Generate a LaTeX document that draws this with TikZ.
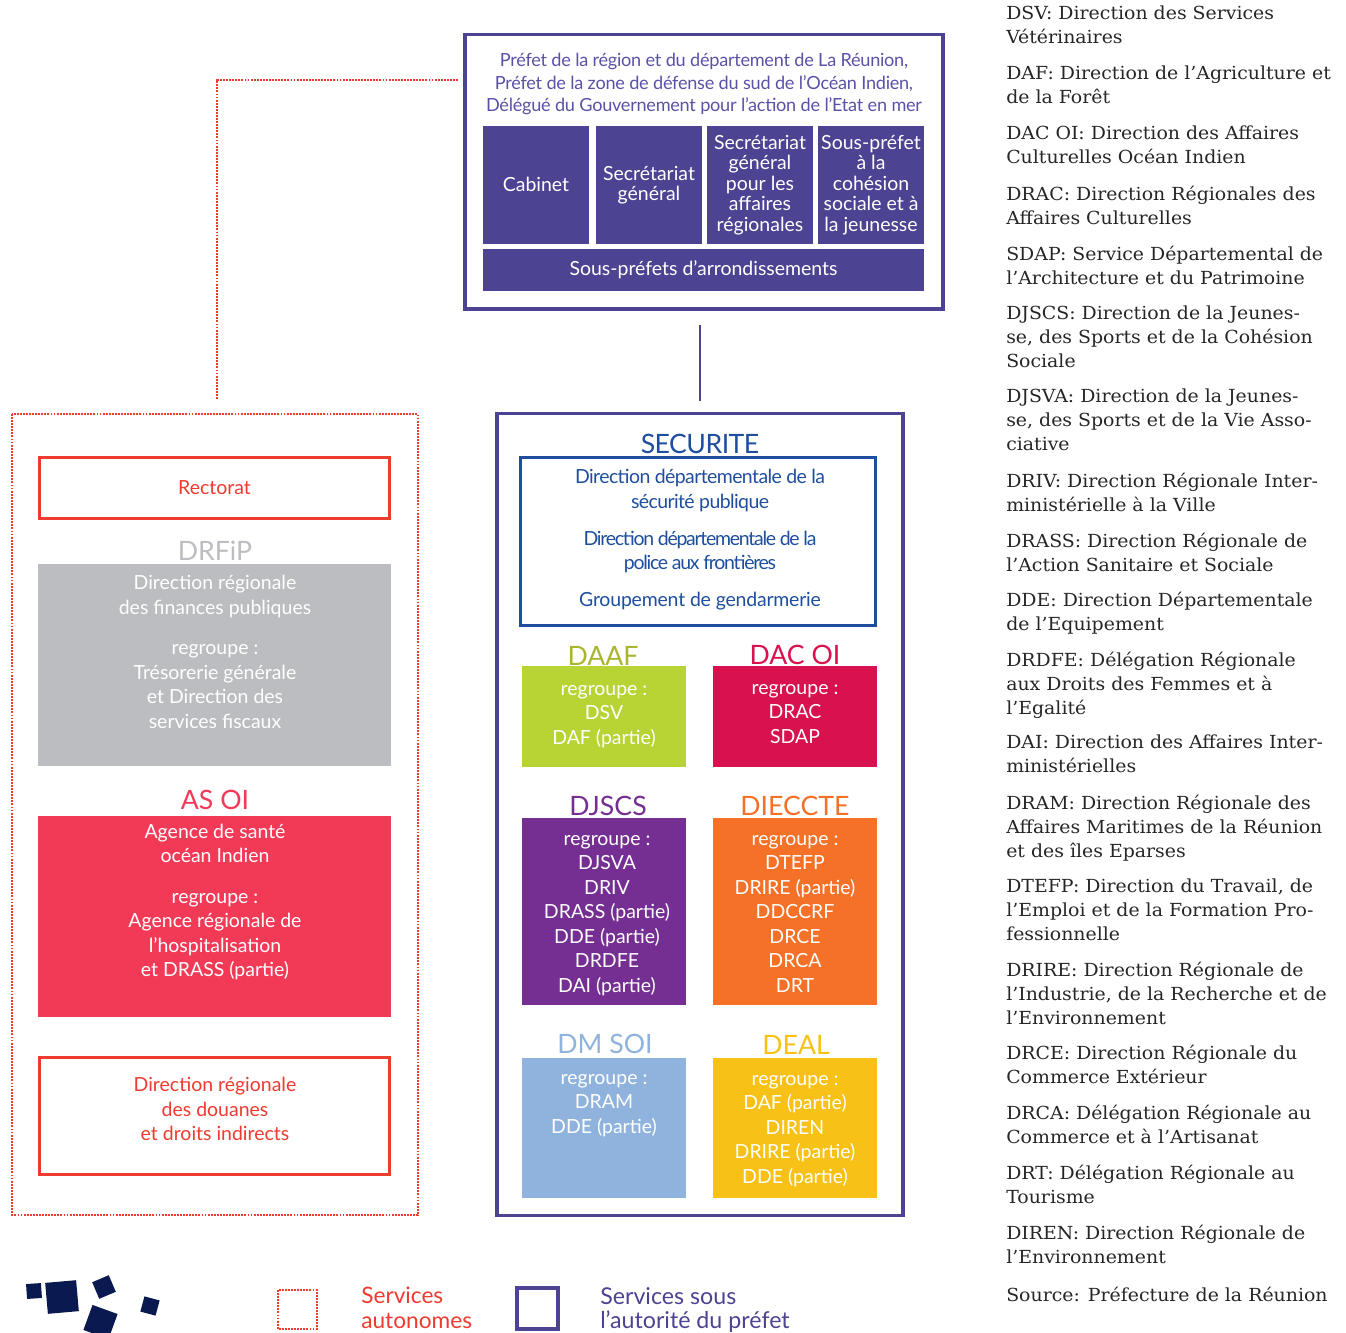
\documentclass[tikz,border=0pt]{standalone}
\usepackage{fontspec}
\setmainfont{Lato}
\newfontfamily\glossfont[FakeStretch=1.05]{DejaVu Serif}
\definecolor{prefetblue}{HTML}{4C4393}
\definecolor{prefettext}{HTML}{5A52A8}
\definecolor{secublue}{HTML}{1F4E9E}
\definecolor{autored}{HTML}{EE3B2F}
\definecolor{greybloc}{HTML}{BCBDC0}
\definecolor{asoired}{HTML}{F23A57}
\definecolor{daafgreen}{HTML}{B7D334}
\definecolor{daafolive}{HTML}{A9B52E}
\definecolor{dacred}{HTML}{D8124F}
\definecolor{djscsviolet}{HTML}{752F92}
\definecolor{dieccteorange}{HTML}{F47127}
\definecolor{dmblue}{HTML}{8FB3DC}
\definecolor{dealyellow}{HTML}{F7C116}
\definecolor{logonavy}{HTML}{0A1A50}
\tikzset{
    bloc/.style = {anchor=north west, inner sep=0pt, outer sep=0pt},
    txt/.style = {anchor=north, inner sep=0pt, align=center, white,
        font=\fontsize{14.6}{18.4}\selectfont, execute at begin node={\strut}},
    titre/.style = {inner sep=0pt, font=\fontsize{20}{24}\selectfont},
    logobit/.style = {fill=logonavy, inner sep=0pt, minimum size=#1},
    gloss/.style = {anchor=north west, inner sep=0pt, align=left, text=black!85,
        font=\glossfont\fontsize{13.5}{17.8}\selectfont, execute at begin node={\strut}},
    autoline/.style = {autored, line width=2.1pt, dash pattern=on 1.4pt off .9pt},
    prefbox/.style = {bloc, fill=prefetblue, minimum width=79.5pt, minimum height=88.5pt,
        align=center, text=white, font=\fontsize{14.6}{15.4}\selectfont}
}
\newcommand{\serre}[2]{{\addfontfeature{LetterSpace=#1}#2}}
\begin{document}
\begin{tikzpicture}[x=.75pt, y=-.75pt]
    \useasboundingbox (0,0) rectangle (1346,1332);

    \draw[prefetblue, line width=2.6pt] (465,34.5) rectangle (943,309);
    \node[txt, prefettext, font=\fontsize{13.6}{17}\selectfont] (prefet) at (704,53) {\serre{-1.5}{Préfet de la région et du département de La Réunion,}\\\serre{-1.5}{Préfet de la zone de défense du sud de l’Océan Indien,}\\\serre{-1.5}{Délégué du Gouvernement pour l’action de l’Etat en mer}};
    \node[prefbox] (cabinet) at (483,126) {\raisebox{1.5pt}{Cabinet}};
    \node[prefbox] (secgen) at (596,126) {Secrétariat\\général};
    \node[prefbox] (sgar) at (707,126) {Secrétariat\\général\\pour les\\affaires\\régionales};
    \node[prefbox] (souspref) at (818,126) {Sous-préfet\\à la\\cohésion\\sociale et à\\la jeunesse};
    \node[bloc, fill=prefetblue, minimum width=330.75pt, minimum height=31.5pt, text=white, font=\fontsize{14.6}{15.4}\selectfont] (arrond) at (483,249) {Sous-préfets d’arrondissements};

    \coordinate (autotop) at (458,80);
    \coordinate (autocorner) at (217,80);
    \coordinate (autoend) at (217,400);
    \draw[autoline] (autotop) -- (autocorner) -- (autoend);
    \coordinate (linktop) at (700,325);
    \coordinate (linkend) at (700,401);
    \draw[prefetblue, line width=1.2pt] (linktop) -- (linkend);

    \draw[autoline] (12,414) rectangle (418,1215);
    \node[bloc, draw=autored, line width=2.2pt, minimum width=262.5pt, minimum height=46pt, text=autored, font=\fontsize{14.6}{18.4}\selectfont] (rectorat) at (39.5,457.5) {\raisebox{1.5pt}{Rectorat}};

    \node[titre, greybloc] (drfip) at (215,551) {DRFiP};
    \node[bloc, fill=greybloc, minimum width=264.75pt, minimum height=151.5pt] (drfipbloc) at (38,564) {};
    \node[txt] (drfiptxt) at (215,575) {Direction régionale\\des finances publiques\\[12pt]regroupe :\\Trésorerie générale\\et Direction des\\services fiscaux};

    \node[titre, asoired] (asoi) at (215,800) {AS OI};
    \node[bloc, fill=asoired, minimum width=264.75pt, minimum height=150.75pt] (asoibloc) at (38,816) {};
    \node[txt] (asoitxt) at (215,823.5) {Agence de santé\\océan Indien\\[12pt]regroupe :\\Agence régionale de\\l’hospitalisation\\et DRASS (partie)};

    \node[bloc, draw=autored, line width=2.2pt, minimum width=262.5pt, minimum height=88pt] (douanes) at (39.5,1057.5) {};
    \node[txt, autored] (douanestxt) at (215,1077) {Direction régionale\\des douanes\\et droits indirects};

    \draw[prefetblue, line width=2.4pt] (497,413.5) rectangle (903,1215.5);
    \node[titre, secublue] (secu) at (700,444) {\serre{-2}{SECURITE}};
    \node[bloc, draw=secublue, line width=2.2pt, minimum width=266.4pt, minimum height=125.8pt] (secubloc) at (520.5,457.5) {};
    \node[txt, secublue] (secutxt) at (700,469) {\serre{-3}{Direction départementale de la}\\\serre{-3}{sécurité publique}\\[9.5pt]\serre{-6.5}{Direction départementale de la}\\\serre{-6.5}{police aux frontières}\\[9pt]\serre{-1}{Groupement de gendarmerie}};

    \node[titre, daafolive] (daaf) at (603,656) {DAAF};
    \node[bloc, fill=daafgreen, minimum width=123pt, minimum height=75.75pt] (daafbloc) at (522,666) {};
    \node[txt] (daaftxt) at (604,685) {regroupe :\\DSV\\DAF (partie)};

    \node[titre, dacred] (dacoi) at (795,655) {DAC OI};
    \node[bloc, fill=dacred, minimum width=123pt, minimum height=75.75pt] (dacbloc) at (713,666) {};
    \node[txt] (dactxt) at (795,684) {regroupe :\\DRAC\\SDAP};

    \node[titre, djscsviolet] (djscs) at (608,806) {DJSCS};
    \node[bloc, fill=djscsviolet, minimum width=123pt, minimum height=140.25pt] (djscsbloc) at (522,818) {};
    \node[txt] (djscstxt) at (607,835) {regroupe :\\DJSVA\\DRIV\\DRASS (partie)\\DDE (partie)\\DRDFE\\DAI (partie)};

    \node[titre, dieccteorange] (dieccte) at (795,806) {DIECCTE};
    \node[bloc, fill=dieccteorange, minimum width=123pt, minimum height=140.25pt] (diecctebloc) at (713,818) {};
    \node[txt] (diecctetxt) at (795,835) {regroupe :\\DTEFP\\DRIRE (partie)\\DDCCRF\\DRCE\\DRCA\\DRT};

    \node[titre, dmblue] (dmsoi) at (605,1044) {DM SOI};
    \node[bloc, fill=dmblue, minimum width=123pt, minimum height=105pt] (dmbloc) at (522,1058) {};
    \node[txt] (dmtxt) at (604,1074) {regroupe :\\DRAM\\DDE (partie)};

    \node[titre, dealyellow] (deal) at (796,1045) {DEAL};
    \node[bloc, fill=dealyellow, minimum width=123pt, minimum height=105pt] (dealbloc) at (713,1058) {};
    \node[txt] (dealtxt) at (795,1075) {regroupe :\\DAF (partie)\\DIREN\\DRIRE (partie)\\DDE (partie)};

    \node[logobit=11.2pt, rotate=4] (logoa) at (34,1291) {};
    \node[logobit=23.3pt, rotate=5] (logob) at (62,1297) {};
    \node[logobit=13.5pt, rotate=23] (logoc) at (104,1287) {};
    \node[logobit=20pt, rotate=-20] (logod) at (100.5,1322) {};
    \node[logobit=11.8pt, rotate=-15] (logoe) at (150,1306) {};

    \draw[autoline] (278,1290) rectangle (317,1329);
    \node[txt, anchor=north west, align=left, autored, font=\fontsize{17}{18.4}\selectfont] (legauto) at (361,1287) {Services\\autonomes};
    \draw[prefetblue, line width=2.4pt] (517,1288) rectangle (558,1329);
    \node[txt, anchor=north west, align=left, prefetblue, font=\fontsize{17.4}{18.4}\selectfont] (legprefet) at (600,1287) {Services sous\\l’autorité du préfet};

    \foreach \ypos/\txt [count=\i] in {
        13/{DSV: Direction des Services\\Vétérinaires},
        73/{DAF: Direction de l’Agriculture et\\de la Forêt},
        133/{DAC OI: Direction des Affaires\\Culturelles Océan Indien},
        193/{DRAC: Direction Régionales des\\Affaires Culturelles},
        253/{SDAP: Service Départemental de\\l’Architecture et du Patrimoine},
        313/{DJSCS: Direction de la Jeunes-\\se, des Sports et de la Cohésion\\Sociale},
        396/{DJSVA: Direction de la Jeunes-\\se, des Sports et de la Vie Asso-\\ciative},
        480/{DRIV: Direction Régionale Inter-\\ministérielle à la Ville},
        540/{DRASS: Direction Régionale de\\l’Action Sanitaire et Sociale},
        599/{DDE: Direction Départementale\\de l’Equipement},
        659/{DRDFE: Délégation Régionale\\aux Droits des Femmes et à\\l’Egalité},
        742/{DAI: Direction des Affaires Inter-\\ministérielles},
        802/{DRAM: Direction Régionale des\\Affaires Maritimes de la Réunion\\et des îles Eparses},
        886/{DTEFP: Direction du Travail, de\\l’Emploi et de la Formation Pro-\\fessionnelle},
        969/{DRIRE: Direction Régionale de\\l’Industrie, de la Recherche et de\\l’Environnement},
        1052/{DRCE: Direction Régionale du\\Commerce Extérieur},
        1112/{DRCA: Délégation Régionale au\\Commerce et à l’Artisanat},
        1172/{DRT: Délégation Régionale au\\Tourisme},
        1232/{DIREN: Direction Régionale de\\l’Environnement},
        1292/{Source: Préfecture de la Réunion}
    } {
        \node[gloss] (gloss\i) at (1006,\ypos-7) {\txt};
    }
\end{tikzpicture}
\end{document}
